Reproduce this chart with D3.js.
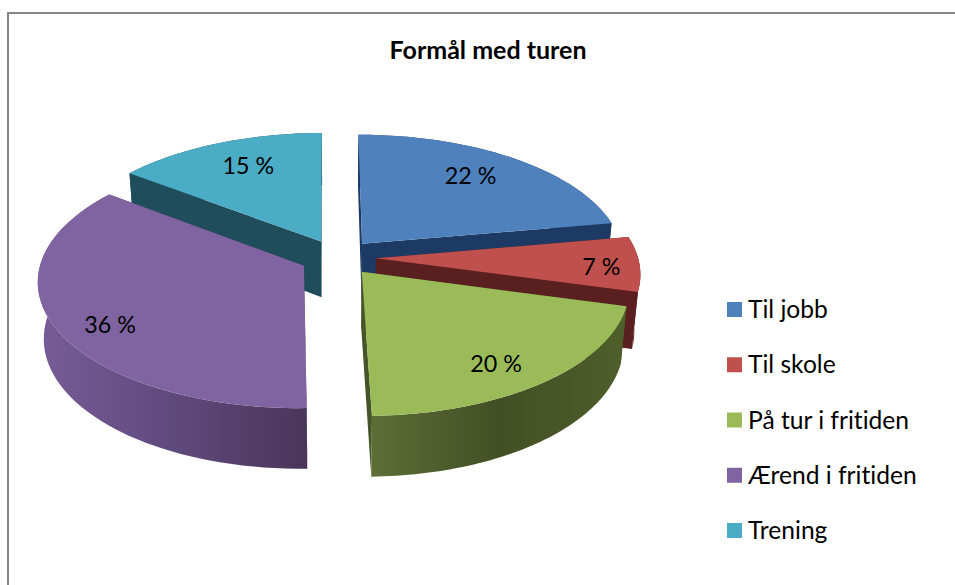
<!DOCTYPE html>
<html>
<head>
  <title>Formål med turen</title>
  <meta charset="utf-8">
  <script src="https://d3js.org/d3.v7.min.js"></script>
  <style>
    body { margin: 0; background: #fff; }
    text { font-family: Lato, "Open Sans", sans-serif; fill: #000; font-variant-ligatures: none; }
  </style>
</head>
<body>
  <script type="text/javascript">
    "use strict";

    // chart values, the labels only show the rounded number
    var categories = ["Til jobb", "Til skole", "På tur i fritiden", "Ærend i fritiden", "Trening"];
    var shares = [22.3, 7.0, 20.4, 35.7, 14.6];
    var title = "Formål med turen";

    // colours per slice
    var topColors = ["#4f81bd", "#c0504d", "#9bbb59", "#8064a2", "#4bacc6"];
    var cutColors = ["#1c3a63", "#5a1f1f", "#46542a", "#4c3759", "#1f4d5c"];
    var rimStops = [
      ["#1c3a63", "#1c3a63"],
      ["#5e1f1f", "#5a1e1e"],
      ["#5d6e35", "#424f24", "#4f5f2a"],
      ["#785c98", "#5f4a7c", "#4a3559"],
      ["#1f4d5c", "#1f4d5c"]
    ];
    var labelReach = [0.75, 0.855, 0.81, 0.82, 0.743];
    var labelTurn = [-2.6, 1.8, 3.4, -5.5, 2];
    var drawOrder = [4, 0, 1, 3, 2];

    var width = 955, height = 585;
    var cx = 338, cy = 257.5;
    var rx = 262, ry = 124.3, persp = 0.113;
    var explode = 0.145;
    var depth = 56;

    var svg = d3.select("body").append("svg")
      .attr("width", width)
      .attr("height", height);

    svg.append("rect")
      .attr("x", 8).attr("y", 13)
      .attr("width", width + 20).attr("height", height + 20)
      .attr("fill", "#fff")
      .attr("stroke", "#868686")
      .attr("stroke-width", 2);

    svg.append("text")
      .attr("x", 488).attr("y", 59)
      .attr("text-anchor", "middle")
      .style("font-size", "25px")
      .style("font-weight", "bold")
      .text(title);

    var arcs = d3.pie().sort(null).startAngle(-0.005).endAngle(2 * Math.PI - 0.005)(shares);

    // disc point of a slice (f = 1 is the rim) through the perspective
    function topPoint(mid, a, f) {
      var X = explode * Math.sin(mid) + f * Math.sin(a);
      var Y = explode * Math.cos(mid) + f * Math.cos(a);
      var w = 1 + persp * Y;
      return [cx + rx * X / w, cy - ry * Y / w];
    }

    // same point moved down to the underside of the pie
    function lower(p) {
      return [cx + (p[0] - cx) * 0.98, p[1] + depth + 0.03 * (p[1] - cy)];
    }

    var line = d3.line();
    var defs = svg.append("defs");

    rimStops.forEach(function (stops, i) {
      var grad = defs.append("linearGradient").attr("id", "rim" + i);
      stops.forEach(function (col, j) {
        grad.append("stop")
          .attr("offset", j / (stops.length - 1))
          .attr("stop-color", col);
      });
    });

    var pieG = svg.append("g").attr("class", "pie");

    drawOrder.forEach(function (i) {
      var d = arcs[i];
      var mid = (d.startAngle + d.endAngle) / 2;
      var apex = topPoint(mid, 0, 0);
      var steps = d3.range(0, 61).map(function (t) {
        return d.startAngle + (d.endAngle - d.startAngle) * t / 60;
      });
      var rimTop = steps.map(function (a) { return topPoint(mid, a, 1); });
      var rimLow = rimTop.map(lower);
      var first = rimTop[0], last = rimTop[rimTop.length - 1];
      var g = pieG.append("g");

      [first, last].forEach(function (p) {
        g.append("path")
          .attr("d", line([apex, p, lower(p), lower(apex)]) + "Z")
          .attr("fill", cutColors[i]);
      });

      g.append("path")
        .attr("d", line(rimTop.concat(rimLow.slice().reverse())) + "Z")
        .attr("fill", "url(#rim" + i + ")");

      g.append("path")
        .attr("d", line([apex].concat(rimTop)) + "Z")
        .attr("fill", topColors[i]);

      d.labelPos = topPoint(mid, mid + labelTurn[i] * Math.PI / 180, labelReach[i]);
    });

    svg.selectAll("text.share")
      .data(arcs)
      .enter()
      .append("text")
        .attr("class", "share")
        .attr("x", function (d) { return d.labelPos[0]; })
        .attr("y", function (d) { return d.labelPos[1]; })
        .attr("dy", "0.35em")
        .attr("text-anchor", "middle")
        .style("font-size", "23.3px")
        .text(function (d) { return d3.format(".0f")(d.value) + " %"; });

    // legend
    var legendY = d3.scalePoint().domain(categories).range([309.5, 530.5]);

    var legend = svg.selectAll("g.legend")
      .data(categories)
      .enter()
      .append("g")
        .attr("class", "legend")
        .attr("transform", function (d) { return "translate(727," + legendY(d) + ")"; });

    legend.append("rect")
      .attr("y", -7.5)
      .attr("width", 15).attr("height", 15)
      .attr("fill", function (d, i) { return topColors[i]; });

    legend.append("text")
      .attr("x", 21)
      .attr("dy", "0.35em")
      .style("font-size", "24.6px")
      .text(function (d) { return d; });
  </script>
</body>
</html>
